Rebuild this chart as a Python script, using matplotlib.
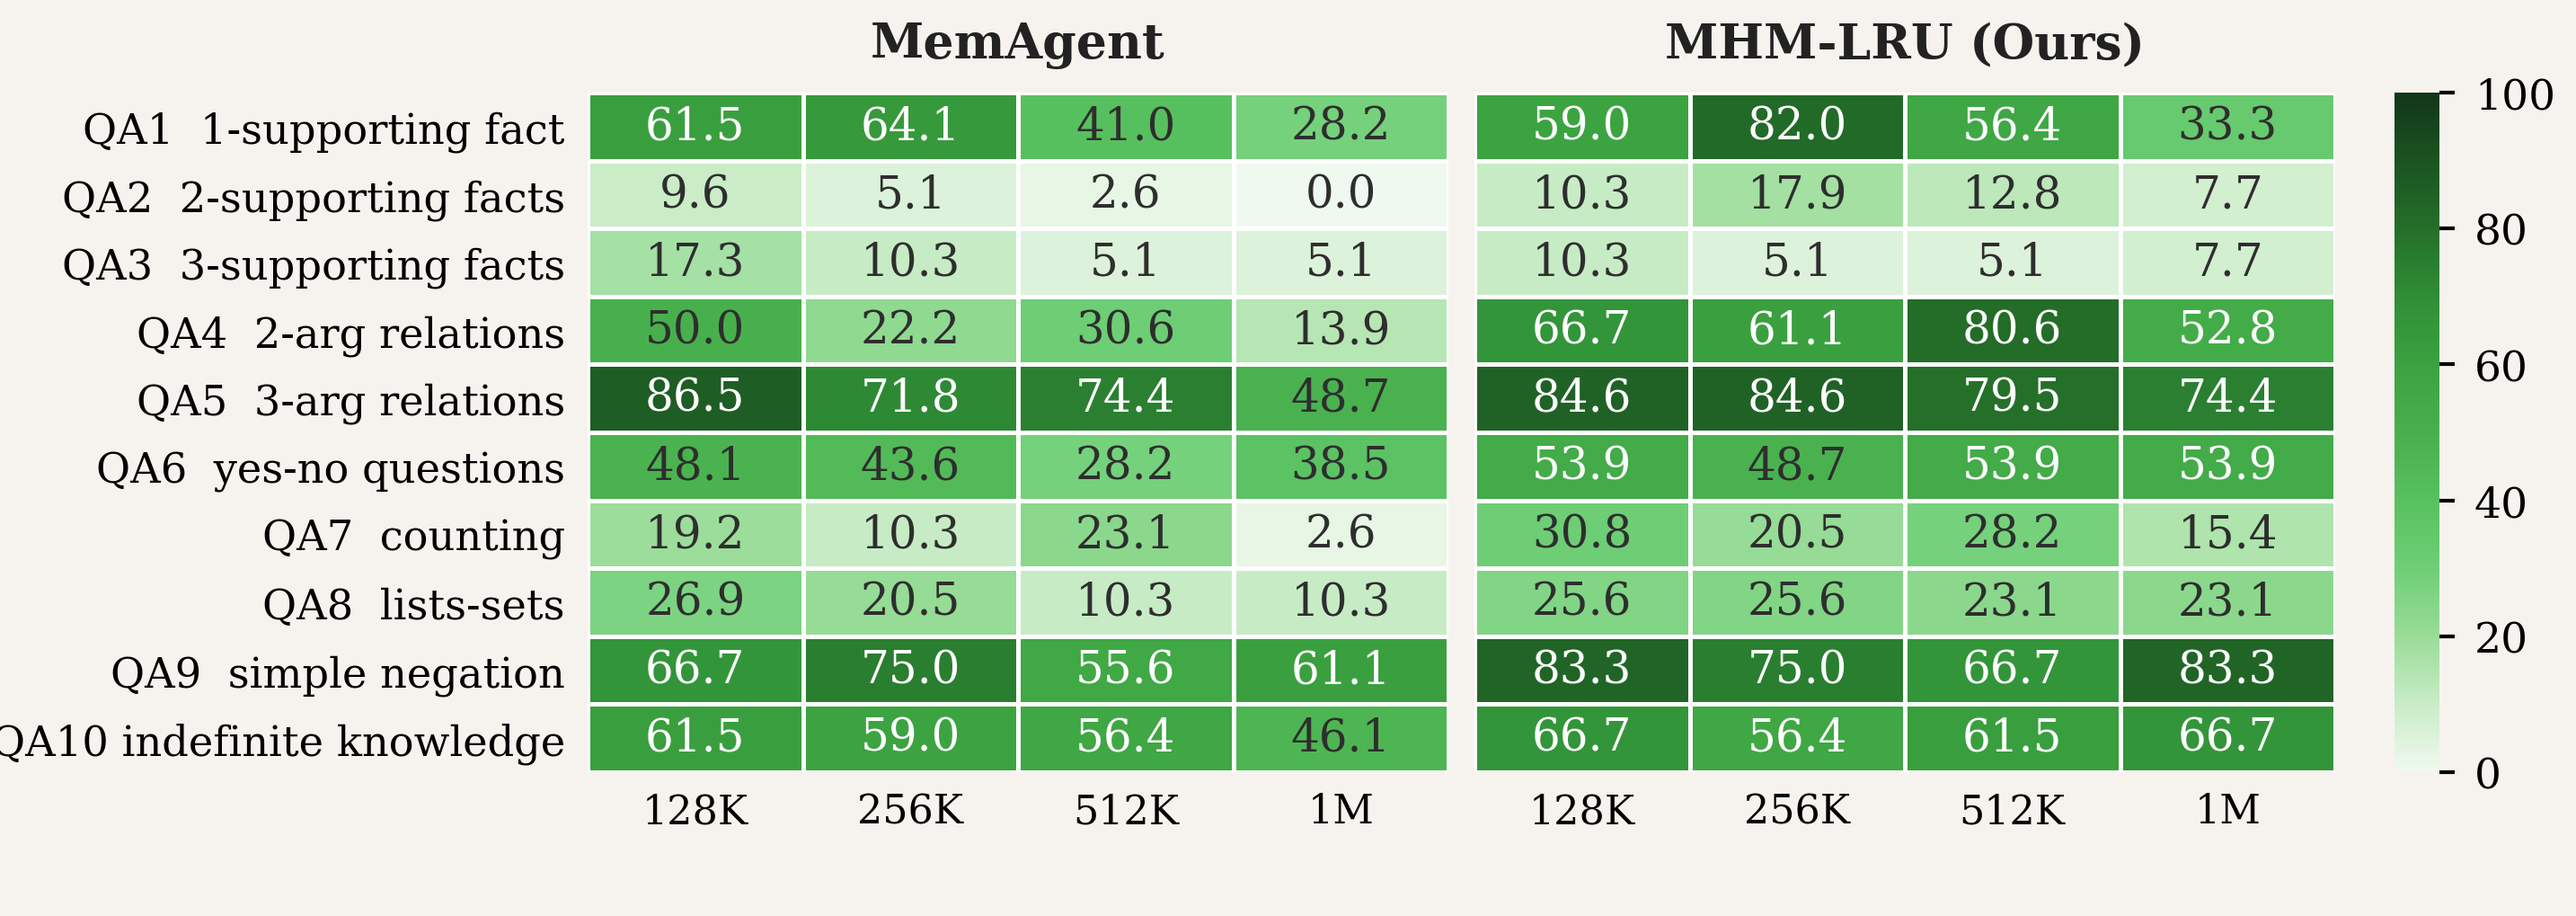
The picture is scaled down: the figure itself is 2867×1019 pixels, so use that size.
import numpy as np
import matplotlib
matplotlib.use("Agg")
import matplotlib.pyplot as plt
from matplotlib.colors import LinearSegmentedColormap, Normalize
from matplotlib.cm import ScalarMappable

plt.rcParams['font.family'] = ['DejaVu Serif']

tasks = ["QA1  1-supporting fact", "QA2  2-supporting facts", "QA3  3-supporting facts",
         "QA4  2-arg relations", "QA5  3-arg relations", "QA6  yes-no questions",
         "QA7  counting", "QA8  lists-sets", "QA9  simple negation",
         "QA10 indefinite knowledge"]
lengths = ["128K", "256K", "512K", "1M"]
titles = ["MemAgent", "MHM-LRU (Ours)"]

memagent = [
    [61.5, 64.1, 41.0, 28.2],
    [9.6, 5.1, 2.6, 0.0],
    [17.3, 10.3, 5.1, 5.1],
    [50.0, 22.2, 30.6, 13.9],
    [86.5, 71.8, 74.4, 48.7],
    [48.1, 43.6, 28.2, 38.5],
    [19.2, 10.3, 23.1, 2.6],
    [26.9, 20.5, 10.3, 10.3],
    [66.7, 75.0, 55.6, 61.1],
    [61.5, 59.0, 56.4, 46.1],
]
mhm_lru = [
    [59.0, 82.0, 56.4, 33.3],
    [10.3, 17.9, 12.8, 7.7],
    [10.3, 5.1, 5.1, 7.7],
    [66.7, 61.1, 80.6, 52.8],
    [84.6, 84.6, 79.5, 74.4],
    [53.9, 48.7, 53.9, 53.9],
    [30.8, 20.5, 28.2, 15.4],
    [25.6, 25.6, 23.1, 23.1],
    [83.3, 75.0, 66.7, 83.3],
    [66.7, 56.4, 61.5, 66.7],
]

bg = "#f6f3ee"
cmap = LinearSegmentedColormap.from_list("gr", [
    (0.00, "#f0f9ef"), (0.10, "#c8ecc6"), (0.20, "#98dc97"), (0.30, "#6ecf76"),
    (0.40, "#58c15f"), (0.50, "#47b04c"), (0.60, "#3ba240"), (0.70, "#2f8e35"),
    (0.80, "#246f29"), (0.90, "#1b5420"), (1.00, "#12361a")])
norm = Normalize(0, 100)

W, H = 2867, 1020
dpi = 200
fig = plt.figure(figsize=(W / dpi, H / dpi), dpi=dpi, facecolor=bg)

def fx(px):
    return px / W

def fy(py):
    return 1 - py / H

top, bot = 104, 860
axes_pos = [(654, 1612), (1641, 2599)]
datasets = [memagent, mhm_lru]

for k, ((x0, x1), data, title) in enumerate(zip(axes_pos, datasets, titles)):
    ax = fig.add_axes([fx(x0), fy(bot), fx(x1 - x0), (bot - top) / H])
    arr = np.array(data)
    ax.pcolormesh(arr, cmap=cmap, norm=norm, edgecolors="white", linewidth=1.8)
    ax.set_xlim(0, arr.shape[1])
    ax.set_ylim(arr.shape[0], 0)
    for i in range(arr.shape[0]):
        for j in range(arr.shape[1]):
            v = arr[i, j]
            col = "white" if v > 51 else "#2e2e2e"
            ax.text(j + 0.5, i + 0.5, f"{v:.1f}", ha="center", va="center",
                    color=col, fontsize=18)
    ax.set_xticks(np.arange(arr.shape[1]) + 0.5)
    ax.set_xticklabels(lengths, fontsize=16)
    ax.set_yticks(np.arange(arr.shape[0]) + 0.5)
    if k == 0:
        ax.set_yticklabels(tasks, fontsize=16.7)
    else:
        ax.set_yticklabels([])
    ax.tick_params(axis="y", length=0, pad=9)
    ax.tick_params(axis="x", length=0, pad=8)
    for s in ax.spines.values():
        s.set_visible(False)
    fig.text(fx((x0 + x1) / 2), fy(51), title, ha="center", va="center",
             fontsize=19.3, fontweight="bold", color="#222222")

cax = fig.add_axes([fx(2665), fy(bot), fx(50), (bot - top) / H])
cb = fig.colorbar(ScalarMappable(norm=norm, cmap=cmap), cax=cax)
cb.outline.set_visible(False)
cb.set_ticks([0, 20, 40, 60, 80, 100])
cax.tick_params(labelsize=17, length=6, width=1.5, pad=8)

fig.savefig("out.png", dpi=dpi, facecolor=bg)
